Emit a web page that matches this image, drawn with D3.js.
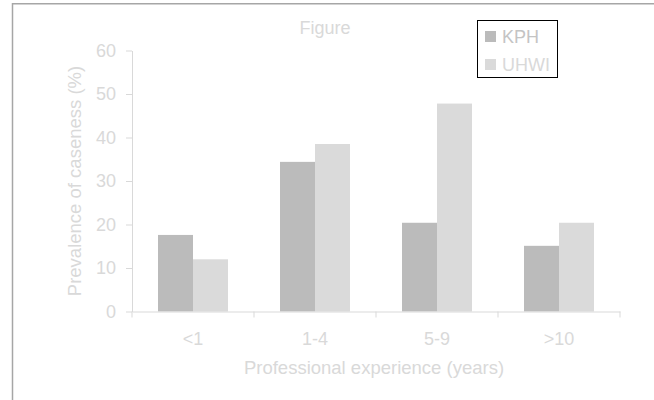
<!DOCTYPE html>
<html>
<head>
<meta charset="utf-8">
<script src="https://cdn.jsdelivr.net/npm/d3@7"></script>
<style>
  body { margin: 0; background: #fff; }
  text { font-family: "Liberation Sans", Arial, sans-serif; }
</style>
</head>
<body>
<div class="chart"></div>
<script>
// data
const categories = ['<1', '1-4', '5-9', '>10'];
const seriesNames = ['KPH', 'UHWI'];
const kphValues = [17.6, 34.4, 20.4, 15.1];
const uhwiValues = [12.0, 38.5, 47.8, 20.4];
const yTicks = [0, 10, 20, 30, 40, 50, 60];

const colors = { KPH: '#bbbbbb', UHWI: '#dadada' };
const textColor = '#d9d9d9';

const rows = categories.map((c, i) => ({ cat: c, KPH: kphValues[i], UHWI: uhwiValues[i] }));

const width = 654, height = 400;
const plot = { left: 132, right: 620, top: 50.5, bottom: 311.5 };

const svg = d3.select('.chart')
    .append('svg')
    .attr('width', width)
    .attr('height', height);

// outer frame (only top and left edges visible)
svg.append('path')
    .attr('d', `M12.5,${height} V3.75 H${width}`)
    .attr('fill', 'none')
    .attr('stroke', '#a6a6a6')
    .attr('stroke-width', 1.5);

const x = d3.scaleBand()
    .domain(categories)
    .range([plot.left, plot.right]);

const x1 = d3.scaleBand()
    .domain(seriesNames)
    .range([0, x.bandwidth()])
    .paddingOuter(0.743);

const y = d3.scaleLinear()
    .domain([0, 60])
    .range([plot.bottom, plot.top]);

// bars
const groups = svg.append('g')
    .selectAll('g')
    .data(rows)
    .enter()
    .append('g')
    .attr('transform', d => `translate(${x(d.cat)},0)`);

groups.selectAll('rect')
    .data(d => seriesNames.map(s => ({ key: s, value: d[s] })))
    .enter()
    .append('rect')
    .attr('x', d => x1(d.key))
    .attr('y', d => y(d.value))
    .attr('width', x1.bandwidth())
    .attr('height', d => y(0) - y(d.value))
    .attr('fill', d => colors[d.key]);

// y axis
const yAxis = svg.append('g')
    .attr('transform', `translate(${plot.left},0)`)
    .call(d3.axisLeft(y).tickValues(yTicks).tickSize(6).tickSizeOuter(0).tickPadding(10));

// x axis: labels centred, ticks on category boundaries
const xAxis = svg.append('g')
    .attr('transform', `translate(0,${plot.bottom})`)
    .call(d3.axisBottom(x).tickSize(0).tickSizeOuter(0).tickPadding(21));

xAxis.selectAll('.bound')
    .data(categories.map(c => x(c)).concat([x.range()[1]]))
    .enter()
    .append('line')
    .attr('class', 'bound')
    .attr('x1', d => d)
    .attr('x2', d => d)
    .attr('y1', 0)
    .attr('y2', 6)
    .attr('stroke', textColor);

[xAxis, yAxis].forEach(a => {
    a.selectAll('path, line').attr('stroke', textColor);
    a.selectAll('text')
        .attr('fill', textColor)
        .style('font-size', '18px')
        .style('font-family', '"Liberation Sans", Arial, sans-serif');
});

// titles
svg.append('text')
    .attr('x', 325)
    .attr('y', 34)
    .attr('text-anchor', 'middle')
    .attr('fill', textColor)
    .style('font-size', '18px')
    .text('Figure');

svg.append('text')
    .attr('x', (plot.left + plot.right) / 2 - 2)
    .attr('y', 374)
    .attr('text-anchor', 'middle')
    .attr('fill', textColor)
    .style('font-size', '18.5px')
    .text('Professional experience (years)');

svg.append('text')
    .attr('transform', `translate(81,${(plot.top + plot.bottom) / 2}) rotate(-90)`)
    .attr('text-anchor', 'middle')
    .attr('fill', textColor)
    .style('font-size', '18.5px')
    .text('Prevalence of caseness (%)');

// legend
const legend = svg.append('g');
legend.append('rect')
    .attr('x', 477.5)
    .attr('y', 20.5)
    .attr('width', 80)
    .attr('height', 57)
    .attr('fill', '#fff')
    .attr('stroke', '#000')
    .attr('stroke-width', 1);

const items = legend.selectAll('.item')
    .data(seriesNames)
    .enter()
    .append('g')
    .attr('class', 'item')
    .attr('transform', (d, i) => `translate(485,${31 + i * 28})`);

items.append('rect')
    .attr('width', 11)
    .attr('height', 11)
    .attr('fill', d => colors[d]);

items.append('text')
    .attr('x', 17)
    .attr('y', 12)
    .attr('fill', d => d === 'KPH' ? '#c4c4c4' : textColor)
    .style('font-size', '18px')
    .text(d => d);
</script>
</body>
</html>
